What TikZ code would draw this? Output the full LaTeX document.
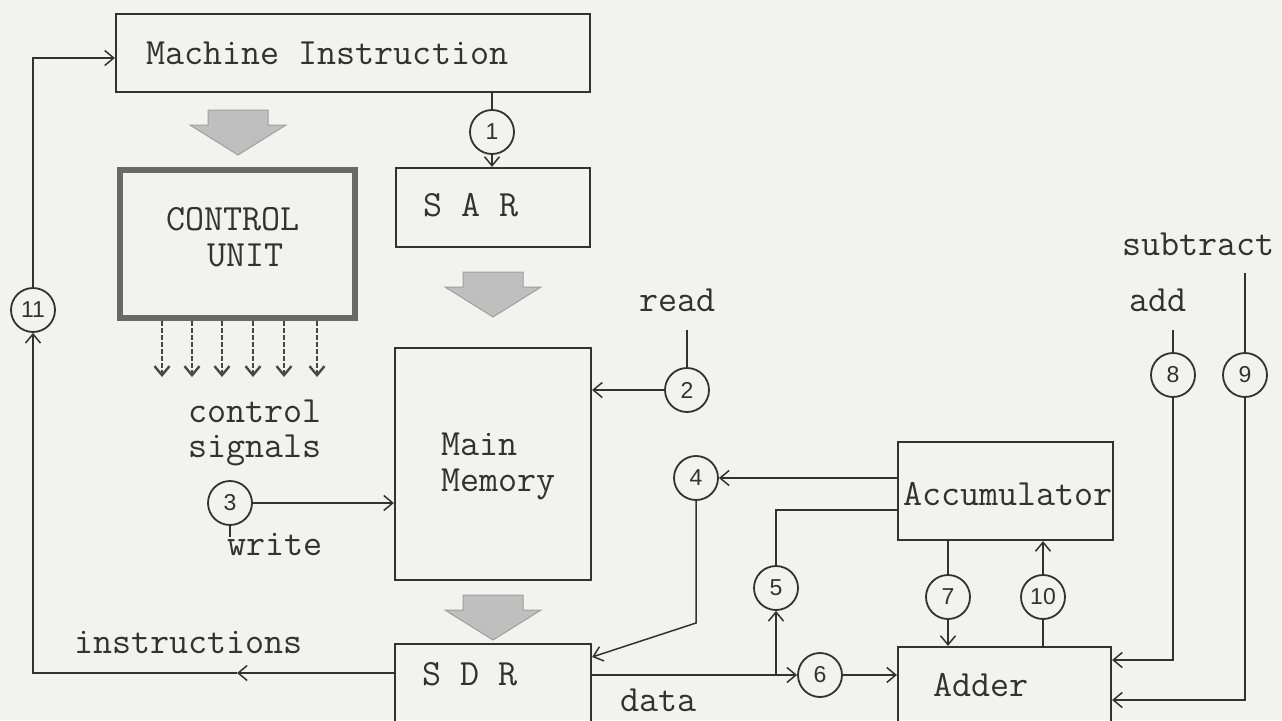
\documentclass[tikz,border=0pt]{standalone}
\usepackage{fontspec}
\newfontfamily\numfont{Liberation Sans}
\usetikzlibrary{arrows.meta}
\definecolor{ink}{RGB}{50,50,50}
\definecolor{paper}{RGB}{242,242,240}
\definecolor{cuborder}{RGB}{105,105,105}
\begin{document}
\begin{tikzpicture}[x=1pt,y=-1pt,
  >={Straight Barb[length=9pt,width=15pt]},
  box/.style={draw=ink,line width=2.2pt,rectangle,inner sep=0pt},
  lbl/.style={text=ink,font=\ttfamily\addfontfeatures{FakeBold=0.6}\fontsize{37}{40}\selectfont,inner sep=0pt,text height=19pt,text depth=7pt,anchor=west},
  num/.style={circle,draw=ink,line width=1.8pt,minimum size=44pt,inner sep=0pt,text=ink,font=\numfont\fontsize{23}{24}\selectfont},
  conn/.style={draw=ink,line width=1.5pt},
  sig/.style={draw=ink!90,line width=2.4pt,dash pattern=on 5pt off 2pt},
  fatarrow/.pic={\path[fill=gray!50,draw=gray!75,line width=1pt] (-30,0) -- (30,0) -- (30,15) -- (48,15) -- (0,45) -- (-48,15) -- (-30,15) -- cycle;}
]
\fill[paper] (0,0) rectangle (1282,720);
\useasboundingbox (0,0) rectangle (1282,720);

% boxes
\node[box,minimum width=474pt,minimum height=78pt] (mi) at (353,53) {};
\node[lbl] (milbl) at (146,58) {Machine Instruction};
\node[box,minimum width=194pt,minimum height=79pt] (sar) at (493,207.5) {};
\node[lbl] (sarlbl) at (423,210) {S A R};
\node[box,draw=cuborder,line width=5.5pt,minimum width=235pt,minimum height=148pt] (cu) at (237.5,244) {};
\node[lbl] (cul1) at (166,224) {CONTROL};
\node[lbl] (cul2) at (207,260) {UNIT};
\node[box,minimum width=196pt,minimum height=232pt] (mm) at (493,464) {};
\node[lbl] (mml1) at (441,449) {Main};
\node[lbl] (mml2) at (441,485) {Memory};
\node[box,minimum width=196pt,minimum height=92pt] (sdr) at (493,690) {};
\node[lbl] (sdrlbl) at (422,679) {S D R};
\node[box,minimum width=215pt,minimum height=98pt] (acc) at (1005.5,491) {};
\node[lbl] (acclbl) at (903,499) {Accumulator};
\node[box,minimum width=213pt,minimum height=89pt] (adder) at (1004.5,691.5) {};
\node[lbl] (addlbl) at (933,690) {Adder};

% fat gray arrows
\pic at (238,110) {fatarrow};
\pic at (493,272) {fatarrow};
\pic at (493,595) {fatarrow};

% labels
\node[lbl] (ctl1) at (188,416) {control};
\node[lbl] (ctl2) at (188,451) {signals};
\node[lbl] (wr) at (227,549) {write};
\node[lbl] (instr) at (74,647) {instructions};
\node[lbl] (data) at (620,705) {data};
\node[lbl] (rd) at (639,305) {read};
\node[lbl] (ad) at (1129,305) {add};
\node[lbl] (sub) at (1122,249) {subtract};

% circles
\node[num] (c1) at (492,132) {1};
\node[num] (c2) at (687,390) {2};
\node[num] (c3) at (230,503) {3};
\node[num] (c4) at (696,478) {4};
\node[num] (c5) at (776,588) {5};
\node[num] (c6) at (820,675) {6};
\node[num] (c7) at (948,597) {7};
\node[num] (c8) at (1173,375) {8};
\node[num] (c9) at (1245,375) {9};
\node[num] (c10) at (1043,597) {10};
\node[num] (c11) at (33,310) {11};

% coordinates
\coordinate (readtop) at (687,330);
\coordinate (wtick) at (230,537);
\coordinate (k4) at (696,623);
\coordinate (br5) at (776,675);
\coordinate (k5) at (776,510);
\coordinate (addtop) at (1173,330);
\coordinate (k8) at (1173,660);
\coordinate (subtop) at (1245,273);
\coordinate (k9) at (1245,700);
\coordinate (k11top) at (33,58);
\coordinate (k11bot) at (33,673);
\coordinate (mid) at (237,673);

% control signals
\foreach \x in {162,192,222,253,284,317}
  \draw[sig,->] (\x,0 |- cu.south) -- (\x,377);

% connectors
\draw[conn] (c1.north |- mi.south) -- (c1.north);
\draw[conn,->] (c1.south) -- (c1.south |- sar.north);
\draw[conn] (readtop) -- (c2.north);
\draw[conn,->] (c2.west) -- (c2.west -| mm.east);
\draw[conn,->] (c3.east) -- (c3.east -| mm.west);
\draw[conn] (c3.south) -- (wtick);
\draw[conn,->] (c4.east -| acc.west) -- (c4.east);
\draw[conn,->] (c4.south) -- (k4) -- (sdr.east |- 0,657);
\draw[conn,->] (sdr.east |- c6) -- (c6.west);
\draw[conn,->] (c6.east) -- (c6 -| adder.west);
\draw[conn,->] (br5) -- (c5.south);
\draw[conn] (c5.north) -- (k5) -- (acc.west |- k5);
\draw[conn] (acc.south -| c7) -- (c7.north);
\draw[conn,->] (c7.south) -- (c7 |- adder.north);
\draw[conn] (adder.north -| c10) -- (c10.south);
\draw[conn,->] (c10.north) -- (c10 |- acc.south);
\draw[conn] (addtop) -- (c8.north);
\draw[conn,->] (c8.south) -- (k8) -- (adder.east |- k8);
\draw[conn] (subtop) -- (c9.north);
\draw[conn,->] (c9.south) -- (k9) -- (adder.east |- k9);
\draw[conn,->] (c11.north) -- (k11top) -- (mi.west |- k11top);
\draw[conn,->] (sdr.west |- mid) -- (mid);
\draw[conn,->] (mid) -- (k11bot) -- (c11.south);
\end{tikzpicture}
\end{document}
